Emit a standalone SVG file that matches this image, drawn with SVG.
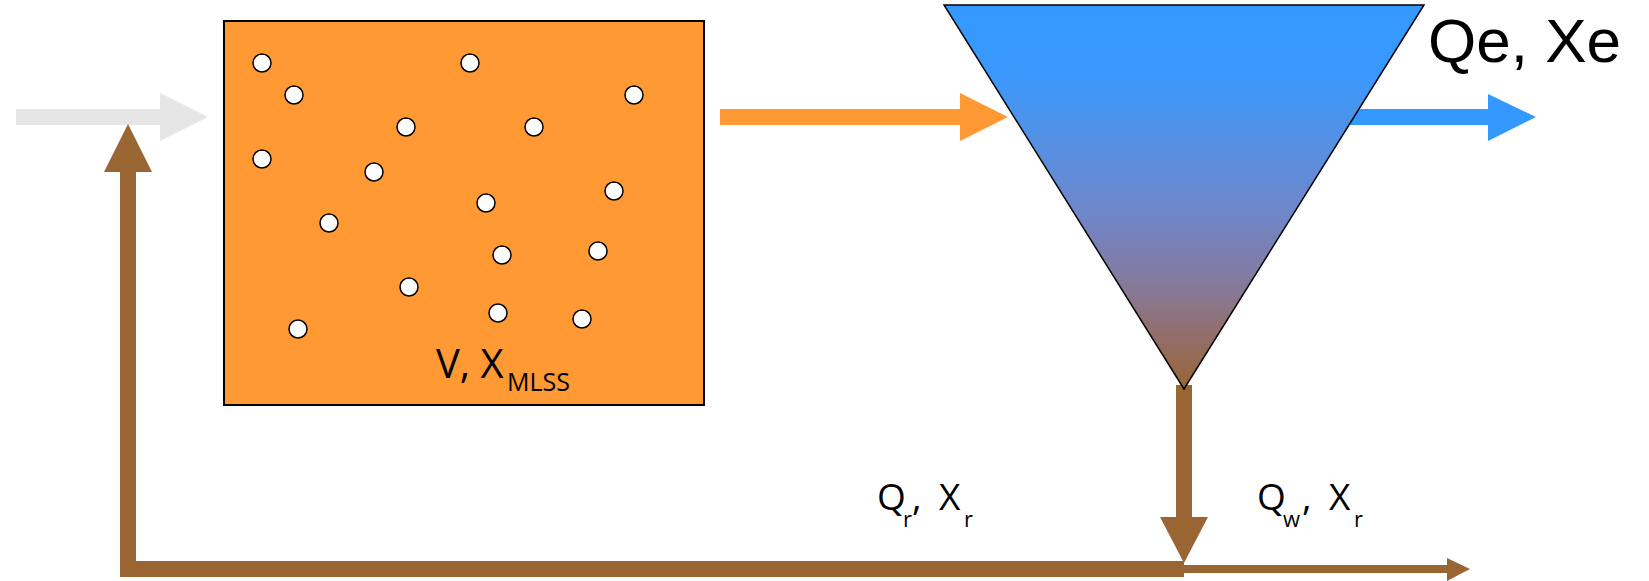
<svg xmlns="http://www.w3.org/2000/svg" width="1649" height="581" viewBox="0 0 1649 581">
<defs>
<linearGradient id="clar" x1="0" y1="0" x2="0" y2="1">
<stop offset="0" stop-color="#3399ff"/>
<stop offset="0.18" stop-color="#3a98fb"/>
<stop offset="0.5" stop-color="#6a89d0"/>
<stop offset="0.7" stop-color="#827ca4"/>
<stop offset="0.85" stop-color="#926f70"/>
<stop offset="1" stop-color="#996633"/>
</linearGradient>
<style>
.bub{fill:#ffffff;stroke:#000000;stroke-width:1.5}
.cal{font-family:"Open Sans","Liberation Sans",sans-serif;fill:#000000}
.ari{font-family:"Liberation Sans",Arial,sans-serif;fill:#000000}
.brown{fill:#996633}
.sub{font-size:22px}
</style>
</defs>
<rect width="1649" height="581" fill="#ffffff"/>
<g id="connectors">
<polygon id="influent" fill="#e6e6e6" points="16,109 160,109 160,93 208,117 160,141 160,125 16,125"/>
<polygon id="mixed-liquor" fill="#ff9933" points="720,109 960,109 960,93 1008,117 960,141 960,125 720,125"/>
<polygon id="effluent" fill="#3399ff" points="1340,109 1488,109 1488,94 1536,117 1488,141 1488,125 1340,125"/>
<polygon id="underflow" class="brown" points="1176,385 1192,385 1192,517 1208,517 1184,563 1160,517 1176,517"/>
<polygon id="return" class="brown" points="1184,561 1184,577 120,577 120,172 104,172 128,124 152,172 136,172 136,561"/>
<polygon id="waste" class="brown" points="1184,565 1447,565 1447,558 1470,569 1447,581 1447,573 1184,573"/>
</g>
<g id="reactor">
<rect x="224" y="21" width="480" height="384" fill="#ff9933" stroke="#000000" stroke-width="2"/>
<circle class="bub" cx="262" cy="63" r="9"/>
<circle class="bub" cx="294" cy="95" r="9"/>
<circle class="bub" cx="470" cy="63" r="9"/>
<circle class="bub" cx="634" cy="95" r="9"/>
<circle class="bub" cx="406" cy="127" r="9"/>
<circle class="bub" cx="534" cy="127" r="9"/>
<circle class="bub" cx="262" cy="159" r="9"/>
<circle class="bub" cx="374" cy="172" r="9"/>
<circle class="bub" cx="614" cy="191" r="9"/>
<circle class="bub" cx="486" cy="203" r="9"/>
<circle class="bub" cx="329" cy="223" r="9"/>
<circle class="bub" cx="502" cy="255" r="9"/>
<circle class="bub" cx="598" cy="251" r="9"/>
<circle class="bub" cx="409" cy="287" r="9"/>
<circle class="bub" cx="498" cy="313" r="9"/>
<circle class="bub" cx="582" cy="319" r="9"/>
<circle class="bub" cx="298" cy="329" r="9"/>
<text class="cal" font-size="40" x="436" y="378">V, X<tspan font-size="25" x="507" y="391">MLSS</tspan></text>
</g>
<g id="clarifier">
<polygon points="944,5 1424,5 1184,389" fill="url(#clar)" stroke="#000000" stroke-width="1.5"/>
</g>
<g id="labels">
<text class="cal" font-size="62" x="1428" y="62" style="font-family:'Liberation Sans',Arial,sans-serif">Qe, Xe</text>
<text class="cal" font-size="37" x="877" y="510">Q<tspan class="sub" x="903" y="527">r</tspan><tspan x="912" y="510">,</tspan><tspan x="939" y="510">X</tspan><tspan class="sub" x="964" y="527">r</tspan></text>
<text class="cal" font-size="37" x="1257" y="510">Q<tspan class="sub" x="1283" y="527">w</tspan><tspan x="1302" y="510">,</tspan><tspan x="1329" y="510">X</tspan><tspan class="sub" x="1354" y="527">r</tspan></text>
</g>
</svg>
